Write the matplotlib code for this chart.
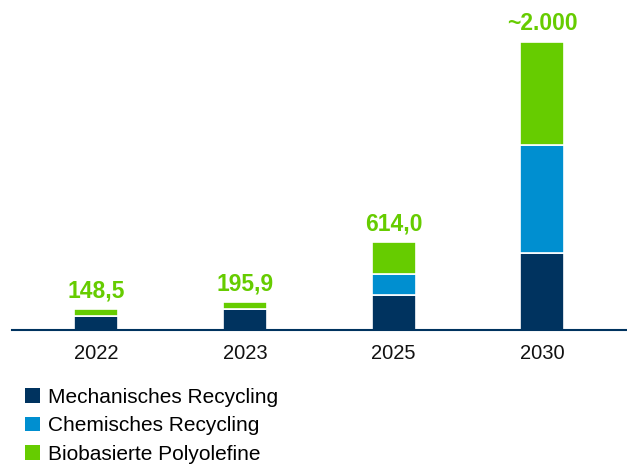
import matplotlib
matplotlib.use("Agg")
import matplotlib.pyplot as plt
from matplotlib.patches import Patch

years = ["2022", "2023", "2025", "2030"]
mechanisch = [100, 148, 245, 535]
chemisch = [0, 0, 145, 750]
biobasiert = [48.5, 47.9, 224, 715]
labels = ["148,5", "195,9", "614,0", "~2.000"]
totals = [148.5, 195.9, 614.0, 2000]
series_names = ["Mechanisches Recycling", "Chemisches Recycling", "Biobasierte Polyolefine"]

c_dark = "#00335f"
c_blue = "#008fd0"
c_green = "#66cc00"

plt.rcParams['font.family'] = ['Liberation Sans', 'DejaVu Sans']

fig = plt.figure(figsize=(6.27, 4.66), dpi=100)
H = 466
W = 627
ax = fig.add_axes([11.7 / W, (H - 330) / H, (W - 11.7) / W, 330 / H])

x = list(range(len(years)))
w = 0.295
ax.bar(x, mechanisch, w, color=c_dark, edgecolor="white", linewidth=1.2, zorder=2)
b2 = [m for m in mechanisch]
ax.bar(x, chemisch, w, bottom=b2, color=c_blue, edgecolor="white", linewidth=1.2, zorder=2)
b3 = [m + c for m, c in zip(mechanisch, chemisch)]
ax.bar(x, biobasiert, w, bottom=b3, color=c_green, edgecolor="white", linewidth=1.2, zorder=2)

for xi, t, lab in zip(x, totals, labels):
    ax.text(xi, t + 45, lab, ha="center", va="bottom", color=c_green,
            fontsize=16.5, fontweight="bold")

ax.set_xlim(-0.57, 3.57)
ax.set_ylim(0, 2290)
ax.set_xticks(x)
ax.set_xticklabels(years, fontsize=14.5, color="#111111")
ax.tick_params(axis="x", length=0, pad=10)
ax.set_yticks([])
for s in ["top", "right", "left"]:
    ax.spines[s].set_visible(False)
ax.spines["bottom"].set_color(c_dark)
ax.spines["bottom"].set_linewidth(1.5)

handles = [Patch(facecolor=c, edgecolor="none") for c in (c_dark, c_blue, c_green)]
fig.legend(handles, series_names, loc="upper left", bbox_to_anchor=(25 / W, (H - 388) / H),
           frameon=False, fontsize=15, handlelength=0.7, handleheight=0.7,
           handletextpad=0.42, labelspacing=0.45, borderaxespad=0, borderpad=0)

fig.savefig("out.png", dpi=100)
